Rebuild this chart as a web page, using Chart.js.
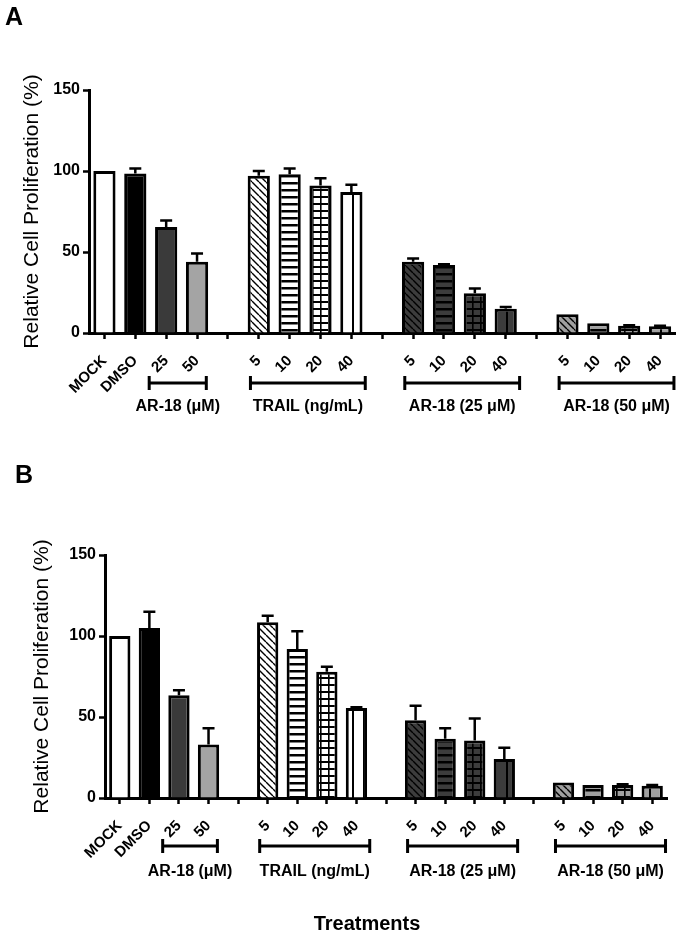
<!DOCTYPE html>
<html lang="en">
<head>
<meta charset="UTF-8">
<title>Relative Cell Proliferation</title>
<script src="https://cdn.jsdelivr.net/npm/chart.js@4.4.3/dist/chart.umd.min.js"></script>
<style>
    * {
        margin: 0;
        padding: 0;
    }
    body {
        width: 686px;
        height: 934px;
        background: #fff;
        position: relative;
        overflow: hidden;
    }
    canvas {
        position: absolute;
        left: 0;
    }
    #chartA { top: 0; }
    #chartB { top: 460px; }
</style>
</head>
<body>
<canvas id="chartA" width="686" height="460"></canvas>
<canvas id="chartB" width="686" height="474"></canvas>
<script>
// categories on the x axis (empty ones are the gaps between groups)
const categories = ['MOCK', 'DMSO', '25', '50', '', '5', '10', '20', '40', '', '5', '10', '20', '40', '', '5', '10', '20', '40'];

// panel A
const valuesA = [100, 98.5, 65.5, 44, null, 97, 98, 91, 87, null, 44, 42, 24.5, 15, null, 11.5, 6, 4.5, 4.2];
const errorsA = [0, 3, 4, 5, null, 3, 3.5, 4.5, 4.5, null, 2, 0.5, 3, 1, null, 0, 0, 0.3, 0.3];

// panel B
const valuesB = [100, 105, 63.5, 33, null, 108.5, 92, 78, 55.5, null, 48, 36.5, 35.5, 24, null, 9.5, 8, 8, 7.5];
const errorsB = [0, 10, 3, 10, null, 4, 11, 3, 0.5, null, 9, 6.5, 13.5, 7, null, 0, 0, 0.5, 0.5];

const yTicks = [0, 50, 100, 150];

// brackets under the axis
const groupLabels = ['AR-18 (\u03bcM)', 'TRAIL (ng/mL)', 'AR-18 (25 \u03bcM)', 'AR-18 (50 \u03bcM)'];
const groupFrom = [2, 5, 10, 15];
const groupTo = [3, 8, 13, 18];

const FONT = '"Liberation Sans", Arial, sans-serif';

// fill + hatch per bar
const barStyles = [
    ['#ffffff', null], ['#000000', null], ['#3a3a3a', null], ['#a4a4a4', null], null,
    ['#ffffff', 'diag'], ['#ffffff', 'horiz'], ['#ffffff', 'grid'], ['#ffffff', 'vert'], null,
    ['#3c3c3c', 'diag'], ['#3c3c3c', 'horiz'], ['#3c3c3c', 'grid'], ['#3c3c3c', 'vert'], null,
    ['#a0a0a0', 'diag'], ['#a0a0a0', 'horiz'], ['#a0a0a0', 'grid'], ['#a0a0a0', 'vert']
];

function makePattern(bg, kind) {
    const c = document.createElement('canvas');
    const w = kind === 'vert' ? 11 : (kind === 'grid' ? 8 : 7);
    const h = 7;
    c.width = w;
    c.height = h;
    const g = c.getContext('2d');
    g.fillStyle = bg;
    g.fillRect(0, 0, w, h);
    g.fillStyle = '#000';
    g.strokeStyle = '#000';
    if (kind === 'diag') {
        g.lineWidth = 1.4;
        g.beginPath();
        for (let x0 = -7; x0 <= 7; x0 += 7) {
            g.moveTo(x0, 0);
            g.lineTo(x0 + 7, 7);
        }
        g.stroke();
    } else if (kind === 'horiz') {
        g.fillRect(0, 0, w, 2.5);
    } else if (kind === 'grid') {
        g.fillRect(0, 0, w, 2);
        g.fillRect(0, 0, 1.6, h);
    } else if (kind === 'vert') {
        g.fillRect(0, 0, 2, h);
    }
    return document.createElement('canvas').getContext('2d').createPattern(c, 'repeat');
}

const fills = barStyles.map(s => {
    if (!s) return 'rgba(0,0,0,0)';
    return s[1] ? makePattern(s[0], s[1]) : s[0];
});

const errorBars = {
    id: 'errorBars',
    afterDatasetsDraw(chart) {
        const ctx = chart.ctx;
        const y = chart.scales.y;
        const ds = chart.data.datasets[0];
        const meta = chart.getDatasetMeta(0);
        ctx.save();
        ctx.strokeStyle = '#000';
        ctx.lineWidth = 2.5;
        meta.data.forEach((bar, i) => {
            const v = ds.data[i];
            const e = ds.errors[i];
            if (v == null || !e) return;
            const top = y.getPixelForValue(v + e);
            ctx.beginPath();
            ctx.moveTo(bar.x, bar.y);
            ctx.lineTo(bar.x, top);
            ctx.moveTo(bar.x - 6, top);
            ctx.lineTo(bar.x + 6, top);
            ctx.stroke();
        });
        ctx.restore();
    }
};

// how far each bracket reaches past its first / last tick, in category widths
const bracketPad = [[0.55, 0.3], [0.27, 0.45], [0.27, 0.45], [0.27, 0.45]];

function makeDecor(s) {
    return {
        id: 'decor' + s.letter,
        afterDraw(chart) {
            const ctx = chart.ctx;
            const x = chart.scales.x;
            const bottom = chart.chartArea.bottom;
            const cat = x.getPixelForValue(1) - x.getPixelForValue(0);
            ctx.save();
            ctx.strokeStyle = '#000';
            ctx.fillStyle = '#000';
            ctx.lineWidth = 3;
            const by = bottom + s.bracketDy;
            groupLabels.forEach((lab, i) => {
                const x1 = x.getPixelForValue(groupFrom[i]) - bracketPad[i][0] * cat;
                const x2 = x.getPixelForValue(groupTo[i]) + bracketPad[i][1] * cat;
                ctx.beginPath();
                ctx.moveTo(x1, by);
                ctx.lineTo(x2, by);
                ctx.moveTo(x1, by - 7);
                ctx.lineTo(x1, by + 7);
                ctx.moveTo(x2, by - 7);
                ctx.lineTo(x2, by + 7);
                ctx.stroke();
                ctx.font = 'bold 16px ' + FONT;
                ctx.textAlign = 'center';
                ctx.textBaseline = 'middle';
                ctx.fillText(lab, (x1 + x2) / 2, bottom + s.labelDy);
            });
            ctx.font = 'bold 25px ' + FONT;
            ctx.textAlign = 'left';
            ctx.textBaseline = 'alphabetic';
            ctx.fillText(s.letter, s.letterX, s.letterY);
            if (s.xTitle) {
                ctx.font = 'bold 20px ' + FONT;
                ctx.textAlign = 'center';
                ctx.fillText(s.xTitle, s.xTitleX, s.xTitleY);
            }
            ctx.restore();
        }
    };
}

function buildChart(id, values, errors, lay) {
    return new Chart(document.getElementById(id), {
        type: 'bar',
        data: {
            labels: categories,
            datasets: [{
                data: values,
                errors: errors,
                backgroundColor: fills,
                borderColor: '#000',
                borderWidth: 3,
                barPercentage: 0.9,
                categoryPercentage: 0.8
            }]
        },
        options: {
            responsive: false,
            animation: false,
            devicePixelRatio: 1,
            layout: {
                padding: { top: lay.top, right: lay.right, left: 0, bottom: 0 }
            },
            plugins: {
                legend: { display: false },
                tooltip: { enabled: false }
            },
            scales: {
                x: {
                    offset: true,
                    grid: {
                        offset: false,
                        drawOnChartArea: false,
                        tickLength: 6,
                        tickWidth: 2.5,
                        tickColor: '#000'
                    },
                    border: { display: true, color: '#000', width: 3 },
                    ticks: {
                        autoSkip: false,
                        minRotation: 45,
                        maxRotation: 45,
                        padding: 13,
                        color: '#000',
                        font: { family: FONT, size: 15, weight: 'bold' }
                    },
                    afterFit: sc => { sc.height = lay.xHeight; }
                },
                y: {
                    min: 0,
                    max: 150,
                    afterBuildTicks: sc => { sc.ticks = yTicks.map(v => ({ value: v })); },
                    grid: {
                        drawOnChartArea: false,
                        tickLength: 6,
                        tickWidth: 2.5,
                        tickColor: '#000'
                    },
                    border: { display: true, color: '#000', width: 3 },
                    ticks: {
                        padding: 3,
                        color: '#000',
                        font: { family: FONT, size: 16, weight: 'bold' }
                    },
                    title: {
                        display: true,
                        text: 'Relative Cell Proliferation (%)',
                        color: '#000',
                        font: { family: FONT, size: 21 },
                        padding: { top: lay.titlePad, bottom: 0 }
                    },
                    afterFit: sc => { sc.width = lay.left; }
                }
            }
        },
        plugins: [errorBars, makeDecor(lay)]
    });
}

buildChart('chartA', valuesA, errorsA, {
    top: 90, right: 8, left: 89, xHeight: 127, titlePad: 20,
    bracketDy: 50, labelDy: 74,
    letter: 'A', letterX: 5, letterY: 25
});

buildChart('chartB', valuesB, errorsB, {
    top: 95, right: 19, left: 105, xHeight: 136, titlePad: 30,
    bracketDy: 48, labelDy: 74,
    letter: 'B', letterX: 15, letterY: 23,
    xTitle: 'Treatments', xTitleX: 367, xTitleY: 470
});
</script>
</body>
</html>
